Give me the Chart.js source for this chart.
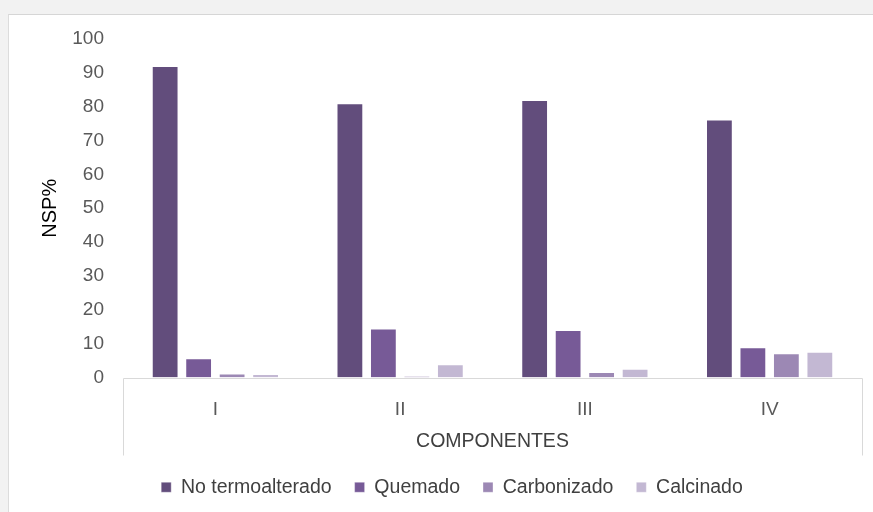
<!DOCTYPE html>
<html>
<head>
<meta charset="utf-8">
<script src="https://cdn.jsdelivr.net/npm/chart.js@4/dist/chart.umd.min.js"></script>
<style>
  html, body { margin: 0; padding: 0; overflow: hidden; background: #f2f2f2; }
  body { width: 873px; height: 512px; position: relative; }
  .panel {
    position: absolute; left: 8px; top: 14px; width: 900px; height: 520px;
    background: #fff; border-top: 1px solid #d6d6d6; border-left: 1px solid #dcdcdc;
  }
  .panel canvas { position: absolute; left: 0; top: 0; }
</style>
</head>
<body>
<div class="panel">
  <canvas id="chart" width="886" height="492" style="width:886px;height:492px"></canvas>
</div>
<script>
// data
const categories = ['I', 'II', 'III', 'IV'];
const noTermoalterado = [92, 81, 82, 76.2];
const quemado = [5.7, 14.5, 14.0, 8.9];
const carbonizado = [1.2, 0.5, 1.6, 7.2];
const calcinado = [1.0, 3.9, 2.6, 7.6];
const seriesNames = ['No termoalterado', 'Quemado', 'Carbonizado', 'Calcinado'];

const colors = ['#624d7c', '#775a97', '#9c88b4', '#c3b8d3'];
const FONT = "'Liberation Sans', Arial, sans-serif";

// axis line plus the two end ticks of the category box
const axisBox = {
  id: 'axisBox',
  afterDatasetsDraw(chart) {
    const { ctx, chartArea } = chart;
    const b = Math.round(chartArea.bottom) + 0.5;
    const l = Math.round(chartArea.left) + 0.5;
    const r = Math.round(chartArea.right) + 0.5;
    ctx.save();
    ctx.strokeStyle = '#d9d9d9';
    ctx.lineWidth = 1;
    ctx.beginPath();
    ctx.moveTo(l, b); ctx.lineTo(r, b);
    ctx.moveTo(l, b); ctx.lineTo(l, b + 77);
    ctx.moveTo(r, b); ctx.lineTo(r, b + 77);
    ctx.stroke();
    ctx.restore();
  },
};

const values = [noTermoalterado, quemado, carbonizado, calcinado];

new Chart(document.getElementById('chart'), {
  type: 'bar',
  data: {
    labels: categories,
    datasets: seriesNames.map((name, i) => ({
      label: name,
      data: values[i],
      backgroundColor: colors[i],
      borderColor: 'rgba(255,255,255,0.35)',
      borderWidth: 1,
      categoryPercentage: 0.725,
      barPercentage: 0.8,
    })),
  },
  options: {
    responsive: false,
    animation: false,
    layout: { padding: { top: 24, right: 0, bottom: 0, left: 0 } },
    plugins: {
      tooltip: { enabled: false },
      legend: {
        position: 'bottom',
        labels: {
          boxWidth: 10,
          boxHeight: 10,
          padding: 23,
          color: '#404040',
          font: { family: FONT, size: 19.5 },
        },
      },
    },
    scales: {
      x: {
        grid: { display: false, drawTicks: false },
        border: { display: false },
        ticks: { color: '#595959', font: { family: FONT, size: 19 }, padding: 21 },
        title: {
          display: true,
          text: 'COMPONENTES',
          color: '#404040',
          font: { family: FONT, size: 19.5, lineHeight: 1 },
          padding: { top: 0, bottom: 3 },
        },
        afterFit(scale) { scale.height = 77; },
      },
      y: {
        min: 0,
        max: 100,
        grid: { display: false, drawTicks: false },
        border: { display: false },
        ticks: { stepSize: 10, color: '#595959', font: { family: FONT, size: 19 }, padding: 19 },
        title: {
          display: true,
          text: 'NSP%',
          color: '#000000',
          font: { family: FONT, size: 20 },
          padding: { top: 29, bottom: 0 },
        },
        afterFit(scale) {
          scale.width = 114;
          scale.paddingTop = 0;
          scale.paddingBottom = 0;
        },
      },
      // empty strip on the right so the legend stays centred on the whole panel
      yRight: {
        position: 'right',
        grid: { display: false, drawTicks: false },
        border: { display: false },
        ticks: { display: false },
        afterFit(scale) {
          scale.width = 33;
          scale.paddingTop = 0;
          scale.paddingBottom = 0;
        },
      },
    },
  },
  plugins: [axisBox],
});
</script>
</body>
</html>
